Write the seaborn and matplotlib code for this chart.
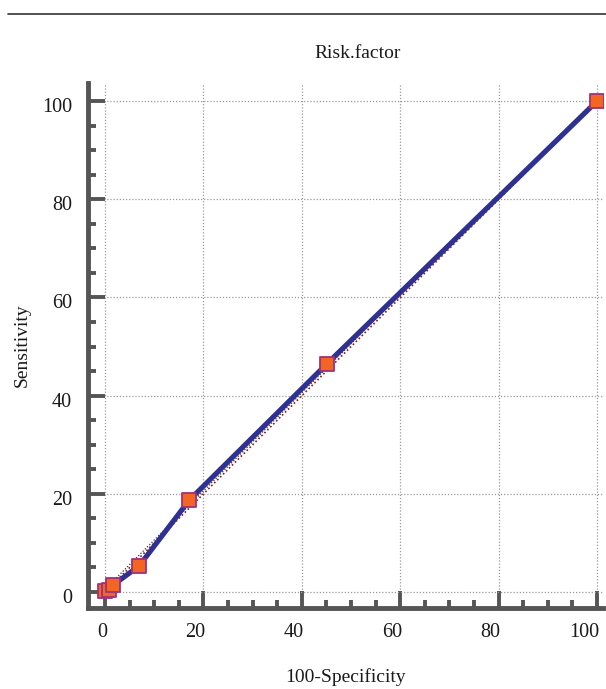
import numpy as np
import pandas as pd
import seaborn as sns
import matplotlib.pyplot as plt
import matplotlib.transforms as mtransforms
from matplotlib.ticker import MultipleLocator
from matplotlib.lines import Line2D

# ROC points
fpr = [0.0, 0.8, 1.6, 6.9, 17.1, 45.1, 100.0]
tpr = [0.2, 0.4, 1.4, 5.3, 18.7, 46.5, 100.0]
ticks = [0, 20, 40, 60, 80, 100]

roc = pd.DataFrame({'x': fpr, 'y': tpr})

sns.set_style('white')
plt.rcParams['font.family'] = ['Liberation Serif', 'DejaVu Serif']

fig = plt.figure(figsize=(6.06, 6.89), dpi=100)
ax = fig.add_axes([0.145, 0.1176, 0.85, 0.762])

# reference diagonal
ax.plot([0, 100], [0, 100], linestyle=(0, (1, 1.5)), color='#8b1a1a', lw=1.2, zorder=2)
ax.plot([0, 100], [0.6, 100.6], linestyle=(0, (1, 1.5)), color='#333333', lw=0.9, zorder=2)

sns.lineplot(data=roc, x='x', y='y', color='#2e3192', lw=3.7, sort=False,
             estimator=None, ax=ax, zorder=3)
sns.scatterplot(data=roc, x='x', y='y', marker='s', s=90, color='#f26522',
                edgecolor='#a0307a', linewidth=1.3, ax=ax, zorder=4)

ax.set_xlim(-3.5, 101.2)
ax.set_ylim(-3.25, 103.7)
ax.set_xticks(ticks)
ax.set_yticks(ticks)
ax.xaxis.set_minor_locator(MultipleLocator(5))
ax.yaxis.set_minor_locator(MultipleLocator(5))
ax.grid(True, which='major', linestyle=(0, (1, 1.5)), color='#9a9a9a', lw=0.9)

for side in ['top', 'right']:
    ax.spines[side].set_visible(False)
for side in ['left', 'bottom']:
    ax.spines[side].set_linewidth(3.5)
    ax.spines[side].set_color('#555555')

ax.tick_params(which='both', bottom=True, left=True, top=False, right=False)
ax.tick_params(which='major', direction='in', length=12.2, width=2.8, color='#555555',
               labelsize=14.5, labelcolor='#1a1a1a')
ax.tick_params(which='minor', direction='in', length=5.8, width=2.8, color='#555555')
ax.tick_params(axis='y', which='major', pad=11.5)
ax.tick_params(axis='x', which='major', pad=10.5)

# labels in the reference sit slightly left of / below their ticks
dx = mtransforms.ScaledTranslation(2 / 100, 0, fig.dpi_scale_trans)
dy = mtransforms.ScaledTranslation(0, -4 / 100, fig.dpi_scale_trans)
for lab in ax.get_xticklabels():
    lab.set_horizontalalignment('right')
    lab.set_transform(lab.get_transform() + dx)
for lab in ax.get_yticklabels():
    lab.set_transform(lab.get_transform() + dy)

ax.set_xlabel('100-Specificity', fontsize=14, labelpad=19, color='#1a1a1a')
ax.set_ylabel('Sensitivity', fontsize=14, labelpad=8, color='#1a1a1a')
fig.text(0.59, 0.922, 'Risk.factor', ha='center', va='center', fontsize=14,
         color='#1a1a1a')

fig.add_artist(Line2D([0.013, 1.0], [0.98, 0.98], color='#333333', lw=1.2))

plt.savefig('out.png', dpi=100)
